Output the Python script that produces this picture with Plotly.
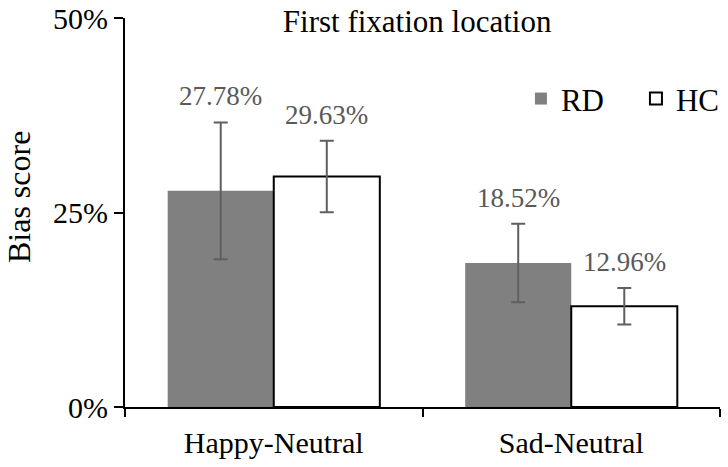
import plotly.graph_objects as go

categories = ["Happy-Neutral", "Sad-Neutral"]
rd_values = [27.78, 18.52]
hc_values = [29.63, 12.96]
rd_errors = [8.8, 5.05]
hc_errors = [4.6, 2.35]
rd_labels = ["27.78%", "18.52%"]
hc_labels = ["29.63%", "12.96%"]
y_ticks = [0, 25, 50]
y_tick_text = ["0%", "25%", "50%"]

FONT = "Liberation Serif"
ERR_COLOR = "#5f5f5f"

fig = go.Figure()
fig.add_trace(go.Bar(
    name="RD", x=categories, y=rd_values,
    marker=dict(color="#808080", line=dict(width=0)),
    error_y=dict(type="data", array=rd_errors, visible=True,
                 color=ERR_COLOR, thickness=2, width=7),
))
fig.add_trace(go.Bar(
    name="HC", x=categories, y=hc_values,
    marker=dict(color="white", line=dict(color="black", width=2)),
    error_y=dict(type="data", array=hc_errors, visible=True,
                 color=ERR_COLOR, thickness=2, width=7),
))

annotations = []
for i, c in enumerate(categories):
    annotations.append(dict(
        x=c, y=rd_values[i] + rd_errors[i], xref="x", yref="y",
        text=rd_labels[i], showarrow=False, xshift=-53, yshift=9,
        yanchor="bottom", font=dict(family=FONT, size=27, color="#595959")))
    annotations.append(dict(
        x=c, y=hc_values[i] + hc_errors[i], xref="x", yref="y",
        text=hc_labels[i], showarrow=False, xshift=53, yshift=9,
        yanchor="bottom", font=dict(family=FONT, size=27, color="#595959")))

annotations.append(dict(
    x=-0.178, y=0.54, xref="paper", yref="paper", text="Bias score",
    textangle=-90, showarrow=False, xanchor="center", yanchor="middle",
    font=dict(family=FONT, size=32, color="black")))

fig.update_layout(
    width=728, height=467,
    margin=dict(l=125, r=8, t=18, b=60, autoexpand=False),
    paper_bgcolor="white", plot_bgcolor="white",
    barmode="group", bargap=0.287, bargroupgap=0,
    font=dict(family=FONT, size=30, color="black"),
    title=dict(text="First fixation location", x=0.573, xref="container",
               y=0.955, yref="container", xanchor="center", yanchor="middle",
               font=dict(family=FONT, size=31, color="black")),
    legend=dict(orientation="h", x=1.052, xanchor="right", y=0.792,
                yanchor="middle", font=dict(family=FONT, size=31, color="black"),
                bgcolor="rgba(0,0,0,0)", entrywidth=70, itemclick=False),
    annotations=annotations,
    showlegend=True,
)
fig.update_xaxes(
    automargin=False,
    showline=True, linecolor="black", linewidth=2,
    ticks="outside", tickson="boundaries", ticklen=8, tickwidth=2, tickcolor="black",
    ticklabelstandoff=8,
    showgrid=False, tickfont=dict(family=FONT, size=30, color="black"),
)
fig.update_yaxes(
    automargin=False,
    range=[0, 50], tickvals=y_ticks, ticktext=y_tick_text,
    showline=True, linecolor="black", linewidth=2,
    ticks="outside", ticklen=9, tickwidth=2, tickcolor="black",
    showgrid=False, zeroline=False,
    tickfont=dict(family=FONT, size=30, color="black"),
)

fig.write_html("out.html",
               config={"displayModeBar": False},
               post_script="document.body.style.margin='0';document.body.style.overflow='hidden';")
